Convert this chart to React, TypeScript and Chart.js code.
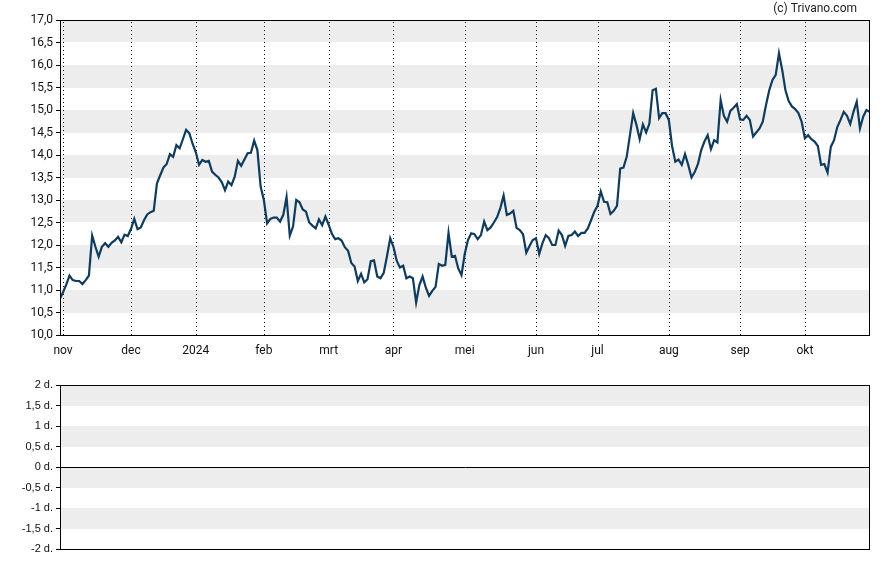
import React, { useEffect, useRef } from "react";
import { Chart, registerables } from "chart.js";
Chart.register(...registerables);

// Daily closing prices per trading day (first value = 31 okt 2023)
const FIRST_DAY = -1;
const PRICES = [
  10.80, 10.95, 11.12, 11.32, 11.22, 11.20, 11.20, 11.13, 11.22, 11.32, 12.21,
  11.96, 11.74, 11.96, 12.04, 11.96, 12.05, 12.10, 12.18, 12.06, 12.23,
  12.20, 12.36, 12.58, 12.35, 12.39, 12.55, 12.68, 12.73, 12.76, 13.37,
  13.55, 13.72, 13.80, 14.02, 13.96, 14.22, 14.15, 14.35, 14.56, 14.48,
  14.25, 14.06, 13.78, 13.89, 13.85, 13.87, 13.63, 13.56, 13.50, 13.40,
  13.22, 13.41, 13.33, 13.52, 13.87, 13.76, 13.90, 14.04, 14.05, 14.32,
  14.11, 13.30, 13.00, 12.48, 12.58, 12.61, 12.61, 12.52, 12.67, 13.07,
  12.21, 12.41, 13.00, 12.95, 12.79, 12.74, 12.50, 12.43, 12.37, 12.57,
  12.44, 12.63, 12.45, 12.25, 12.13, 12.15, 12.10, 11.95, 11.87, 11.60,
  11.52, 11.20, 11.36, 11.17, 11.24, 11.64, 11.66, 11.30, 11.26, 11.38,
  11.75, 12.15, 11.96, 11.65, 11.50, 11.54, 11.26, 11.30, 11.26, 10.72,
  11.11, 11.30, 11.05, 10.87, 10.98, 11.07, 11.58, 11.54, 11.56, 12.27,
  11.74, 11.76, 11.48, 11.33, 11.80, 12.11, 12.26, 12.24, 12.13, 12.22,
  12.52, 12.33, 12.39, 12.50, 12.62, 12.82, 13.10, 12.67, 12.70, 12.76,
  12.38, 12.33, 12.24, 11.83, 11.98, 12.11, 12.15, 11.80, 12.04, 12.22,
  12.15, 12.00, 12.00, 12.32, 12.22, 11.98, 12.20, 12.22, 12.30, 12.20,
  12.27, 12.27, 12.37, 12.55, 12.74, 12.87, 13.19, 12.96, 12.95, 12.69,
  12.76, 12.87, 13.70, 13.72, 13.96, 14.44, 14.93, 14.67, 14.35, 14.68,
  14.50, 14.70, 15.44, 15.47, 14.82, 14.93, 14.93, 14.78, 14.20, 13.85,
  13.90, 13.78, 14.02, 13.78, 13.50, 13.62, 13.80, 14.11, 14.30, 14.44,
  14.13, 14.33, 14.28, 15.22, 14.87, 14.74, 14.98, 15.05, 15.13, 14.79,
  14.78, 14.87, 14.78, 14.41, 14.50, 14.59, 14.74, 15.11, 15.44, 15.67,
  15.78, 16.26, 15.89, 15.44, 15.20, 15.08, 15.02, 14.93, 14.74, 14.37,
  14.44, 14.35, 14.30, 14.20, 13.78, 13.80, 13.61, 14.18, 14.33, 14.62,
  14.78, 14.96, 14.87, 14.69, 14.96, 15.18, 14.59, 14.85, 15.00, 14.96,
];

// Trading-day index of the first trading day of each month
const MONTH_TICKS = [0, 21, 41, 62, 82, 102, 124, 146, 165, 187, 209, 229];
const MONTH_LABELS = ["nov", "dec", "2024", "feb", "mrt", "apr", "mei", "jun", "jul", "aug", "sep", "okt"];

const X_MIN = -0.62;
const X_MAX = 249.1;
const PRICE_MIN = 10;
const PRICE_MAX = 17;
const PRICE_STEP = 0.5;
const PRICE_BANDS = [[16.5, 17], [15.5, 16], [14.5, 15], [13.5, 14], [12.5, 13], [11.5, 12], [10.5, 11]];
const SPREAD_MIN = -2;
const SPREAD_MAX = 2;
const SPREAD_STEP = 0.5;
const SPREAD_BANDS = [[1.5, 2], [0.5, 1], [-0.5, 0], [-1.5, -1]];

const BAND_COLOR = "#ededed";
const LINE_COLOR = "#0f3b5c";
const TEXT_COLOR = "#111";

const panelPlugin = {
  id: "panel",
  beforeDraw(chart: any, _args: any, opts: any) {
    const { ctx, chartArea, scales } = chart;
    const { left, right, top, bottom } = chartArea;
    const y = scales.y;
    const x = scales.x;
    ctx.save();
    ctx.fillStyle = BAND_COLOR;
    for (const [lo, hi] of opts.bands || []) {
      const y1 = Math.round(y.getPixelForValue(hi));
      const y2 = Math.round(y.getPixelForValue(lo));
      ctx.fillRect(left, y1, right - left, y2 - y1);
    }
    if (opts.vlines) {
      ctx.strokeStyle = "#000";
      ctx.lineWidth = 1;
      ctx.setLineDash([1, 3]);
      for (const v of opts.vlines) {
        const px = Math.round(x.getPixelForValue(v)) + 0.5;
        ctx.beginPath();
        ctx.moveTo(px, top + 2);
        ctx.lineTo(px, bottom);
        ctx.stroke();
      }
      ctx.setLineDash([]);
    }
    ctx.restore();
  },
  afterDraw(chart: any, _args: any, opts: any) {
    const { ctx, chartArea, scales } = chart;
    const { left, right, top, bottom } = chartArea;
    ctx.save();
    ctx.strokeStyle = "#000";
    ctx.lineWidth = 1;
    ctx.setLineDash([]);
    ctx.strokeRect(Math.round(left) - 0.5, Math.round(top) + 0.5, Math.round(right) - Math.round(left), Math.round(bottom) - Math.round(top));
    if (opts.zeroLine) {
      const py = Math.round(scales.y.getPixelForValue(0)) + 0.5;
      ctx.beginPath();
      ctx.moveTo(left, py);
      ctx.lineTo(right, py);
      ctx.stroke();
    }
    if (opts.copyright) {
      ctx.font = "12px Roboto";
      ctx.fillStyle = "#222";
      ctx.textAlign = "right";
      ctx.textBaseline = "middle";
      ctx.fillText(opts.copyright, 857, 9);
    }
    ctx.restore();
  },
};

function PriceChart() {
  const ref = useRef<HTMLCanvasElement>(null);
  useEffect(() => {
    const data = PRICES.map((v, i) => ({ x: i + FIRST_DAY, y: v }));
    const chart = new Chart(ref.current!, {
      type: "line",
      data: {
        datasets: [
          {
            data,
            borderColor: LINE_COLOR,
            borderWidth: 2.2,
            pointRadius: 0,
            tension: 0,
            fill: false,
          },
        ],
      },
      options: {
        animation: false,
        responsive: false,
        events: [],
        layout: { padding: { left: 0, top: 20, right: 18, bottom: 0 } },
        plugins: {
          legend: { display: false },
          tooltip: { enabled: false },
          panel: { bands: PRICE_BANDS, vlines: MONTH_TICKS, copyright: "(c) Trivano.com" },
        } as any,
        scales: {
          x: {
            type: "linear",
            min: X_MIN,
            max: X_MAX,
            afterBuildTicks: (s: any) => {
              s.ticks = MONTH_TICKS.map((v) => ({ value: v }));
            },
            afterFit: (s: any) => {
              s.height = 30;
            },
            grid: { display: false, drawTicks: false },
            border: { display: false },
            ticks: {
              autoSkip: false,
              maxRotation: 0,
              padding: 9,
              color: TEXT_COLOR,
              font: { family: "Roboto", size: 12 },
              callback: (_v: any, i: number) => MONTH_LABELS[i],
            },
          },
          y: {
            min: PRICE_MIN,
            max: PRICE_MAX,
            afterFit: (s: any) => {
              s.width = 61;
            },
            grid: { display: true, drawOnChartArea: false, drawTicks: true, tickLength: 5, color: "#000" },
            border: { display: false },
            ticks: {
              stepSize: PRICE_STEP,
              autoSkip: false,
              padding: 3,
              color: TEXT_COLOR,
              font: { family: "Roboto", size: 12 },
              callback: (v: any) => Number(v).toFixed(1).replace(".", ","),
            },
          },
        },
      },
      plugins: [panelPlugin],
    });
    return () => chart.destroy();
  }, []);
  return <canvas ref={ref} width={888} height={365} style={{ position: "absolute", left: 0, top: 0, display: "block" }} />;
}

function SpreadChart() {
  const ref = useRef<HTMLCanvasElement>(null);
  useEffect(() => {
    const chart = new Chart(ref.current!, {
      type: "line",
      data: { datasets: [{ data: [], borderColor: LINE_COLOR, pointRadius: 0 }] },
      options: {
        animation: false,
        responsive: false,
        events: [],
        layout: { padding: { left: 0, top: 20, right: 18, bottom: 16 } },
        plugins: {
          legend: { display: false },
          tooltip: { enabled: false },
          panel: { bands: SPREAD_BANDS, zeroLine: true },
        } as any,
        scales: {
          x: { type: "linear", min: X_MIN, max: X_MAX, display: false },
          y: {
            min: SPREAD_MIN,
            max: SPREAD_MAX,
            afterFit: (s: any) => {
              s.width = 61;
            },
            grid: { display: true, drawOnChartArea: false, drawTicks: true, tickLength: 5, color: "#000" },
            border: { display: false },
            ticks: {
              stepSize: SPREAD_STEP,
              autoSkip: false,
              padding: 3,
              color: TEXT_COLOR,
              font: { family: "Liberation Sans", size: 11 },
              callback: (v: any) => String(Number(v)).replace(".", ",") + " d.",
            },
          },
        },
      },
      plugins: [panelPlugin],
    });
    return () => chart.destroy();
  }, []);
  return <canvas ref={ref} width={888} height={200} style={{ position: "absolute", left: 0, top: 365, display: "block" }} />;
}

export default function App() {
  return (
    <div style={{ position: "fixed", left: 0, top: 0, width: 888, height: 565, background: "#fff" }}>
      <PriceChart />
      <SpreadChart />
    </div>
  );
}
